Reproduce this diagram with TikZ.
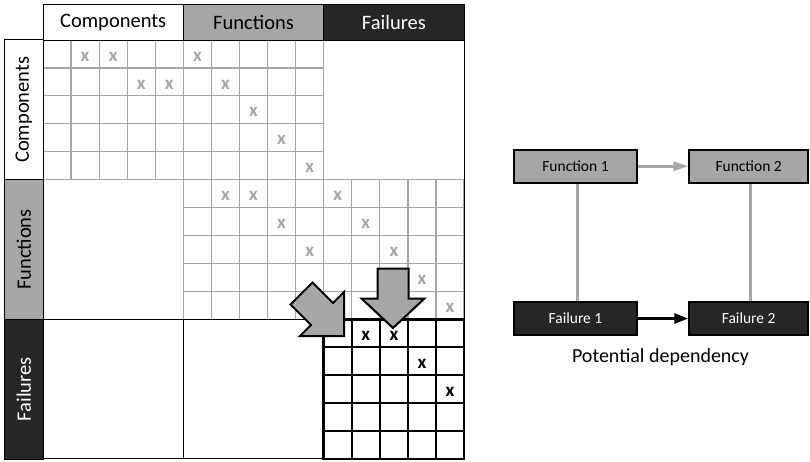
\documentclass[tikz,border=0pt]{standalone}
\usepackage{fontspec}
\setmainfont{Carlito}
\usetikzlibrary{arrows.meta}
\definecolor{mgray}{HTML}{A6A6A6}
\definecolor{dgray}{HTML}{262626}
\begin{document}
\begin{tikzpicture}[x=1pt,y=-1pt,
  hdr/.style={draw=black, line width=1pt, inner sep=0pt, minimum height=35.5pt, font=\fontsize{20.5}{24}\selectfont},
  vhdr/.style={hdr, rotate=90, minimum height=38.5pt, minimum width=139.65pt},
  gline/.style={draw=mgray, line width=1.2pt},
  bline/.style={draw=black, line width=1pt},
  gx/.style={text=mgray, font=\bfseries\fontsize{19}{22}\selectfont, inner sep=0pt, yshift=-2.5pt},
  bx/.style={text=black, font=\bfseries\fontsize{19}{22}\selectfont, inner sep=0pt, yshift=-2.5pt},
  bigarrow/.style={fill=mgray, draw=black, line width=2pt, line join=miter},
  fbox/.style={draw=black, line width=2pt, fill=mgray, minimum width=122.5pt, minimum height=32.5pt, inner sep=0pt, font=\fontsize{15.5}{18}\selectfont},
  flbox/.style={fbox, fill=dgray, text=white},
]
\useasboundingbox[fill=white] (0,0) rectangle (810,461);

% ---------- matrix grid ----------
\begin{scope}[shift={(43,40)}, x=28.07pt, y=-27.93pt]
  % gray grids
  \foreach \i in {0,...,10} \draw[gline] (\i,0) -- (\i,5);
  \foreach \j in {0,...,5} \draw[gline] (0,\j) -- (10,\j);
  \foreach \i in {5,...,15} \draw[gline] (\i,5) -- (\i,10);
  \foreach \j in {5,...,10} \draw[gline] (5,\j) -- (15,\j);
  % black thin borders
  \draw[bline] (0,10) -- (10,10);
  \draw[bline] (5,10) -- (5,15);
  \draw[bline] (0,15) -- (15,15);
  \draw[bline] (15,0) -- (15,15);
  % failures block
  \foreach \i in {11,...,14} \draw[line width=1.6pt] (\i,10) -- (\i,15);
  \foreach \j in {11,...,14} \draw[line width=1.6pt] (10,\j) -- (15,\j);
  \draw[line width=2.8pt] (10,10) rectangle (15,15);
  % gray marks
  \foreach \r/\c in {1/2,1/3,1/6,2/4,2/5,2/7,3/8,4/9,5/10,6/7,6/8,6/11,7/9,7/12,8/10,8/13,9/14,10/15}
    \node[gx] (g-\r-\c) at (\c-0.5,\r-0.5) {x};
  % black marks
  \foreach \r/\c in {11/12,11/13,12/14,13/15}
    \node[bx] (b-\r-\c) at (\c-0.5,\r-0.5) {x};
\end{scope}

% ---------- headers ----------
\node[hdr, fill=white, minimum width=140.35pt] (hc) at (113.2,22.25) {Components};
\node[hdr, fill=mgray, minimum width=140.35pt] (hf) at (253.55,22.25) {Functions};
\node[hdr, fill=dgray, text=white, minimum width=140.35pt] (hfa) at (393.9,22.25) {Failures};
\node[vhdr, fill=white] (vc) at (23.75,109.8) {Components};
\node[vhdr, fill=mgray] (vf) at (23.75,249.5) {Functions};
\node[vhdr, fill=dgray, text=white] (vfa) at (23.75,389.2) {Failures};

% ---------- big arrows ----------
\draw[bigarrow] (344,336) -- (344,292) -- (332.96,303.04) -- (312.46,282.54)
  -- (290.54,304.46) -- (311.04,324.96) -- (300,336) -- cycle;
\draw[bigarrow] (393,328) -- (424.5,298.5) -- (408.5,298.5) -- (408.5,268.5)
  -- (377.5,268.5) -- (377.5,298.5) -- (361.5,298.5) -- cycle;

% ---------- dependency diagram ----------
\node[fbox] (f1) at (575.5,166.25) {Function 1};
\node[fbox, minimum width=118.7pt] (f2) at (748.65,166.25) {Function 2};
\node[flbox] (fa1) at (575.5,318.5) {Failure 1};
\node[flbox, minimum width=118.7pt] (fa2) at (748.65,318.5) {Failure 2};
\draw[mgray, line width=3pt] ([xshift=1.5pt]f1.south) -- ([xshift=1.5pt]fa1.north);
\draw[mgray, line width=3pt] ([xshift=1.5pt]f2.south) -- ([xshift=1.5pt]fa2.north);
\draw[mgray, line width=2.5pt, -{Triangle[length=15pt,width=9pt]}] (f1) -- (f2);
\draw[black, line width=3pt, -{Triangle[length=14pt,width=10pt]}] (fa1) -- (fa2);
\node[font=\fontsize{20}{24}\selectfont, inner sep=0pt] (pd) at (660.5,357) {Potential dependency};
\end{tikzpicture}
\end{document}
